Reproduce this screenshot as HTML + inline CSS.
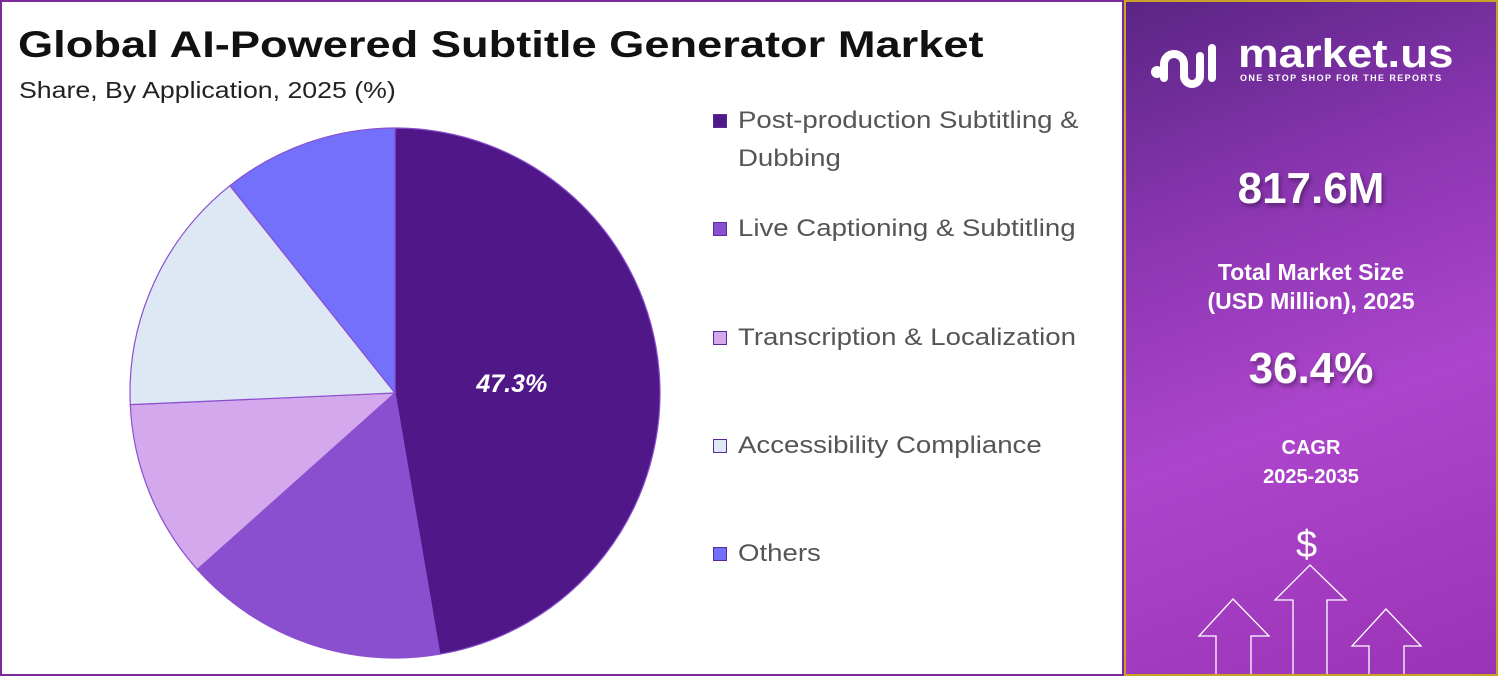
<!DOCTYPE html>
<html><head><meta charset="utf-8"><style>
body{margin:0;width:1498px;height:676px;overflow:hidden;background:#fff;font-family:"Liberation Sans",sans-serif}
#left{position:absolute;left:0;top:0;width:1120px;height:672px;border:2px solid #7b2a9a;box-sizing:content-box}
#right{position:absolute;left:1124px;top:0;width:370px;height:672px;border:2px solid #c9a227;background:linear-gradient(160deg,#5a2585 0%,#8a35b0 30%,#ad45cc 60%,#9a33b5 100%);color:#fff;text-align:center;overflow:hidden}
h1{position:absolute;left:16px;top:22px;margin:0;font-size:37px;font-weight:bold;color:#111;transform:scaleX(1.222);transform-origin:left}
.sub{position:absolute;left:17px;top:75px;font-size:23px;color:#222;transform:scaleX(1.16);transform-origin:left}
.leg{position:absolute;left:711px;font-size:24px;color:#555;line-height:38px}
.sw{position:absolute;left:0;top:12px;width:14px;height:14px;border:1.5px solid #5b2a9a;box-sizing:border-box}
.leg span.t{margin-left:25px;display:block;transform:scaleX(1.15);transform-origin:left;white-space:nowrap}
.big{position:absolute;width:100%;font-weight:bold;text-shadow:2px 3px 4px rgba(0,0,0,.35)}
</style></head><body>
<div id="left">
<h1>Global AI-Powered Subtitle Generator Market</h1>
<div class="sub">Share, By Application, 2025 (%)</div>
<svg id="pie" width="700" height="676" style="position:absolute;left:0;top:0"></svg>
<div id="legend"></div>
</div>
<div id="right">
<div style="position:absolute;left:22px;top:36px;width:330px;height:50px">
<svg width="80" height="50" style="position:absolute;left:0;top:0"><circle cx="9" cy="34" r="6" fill="#fff"/><path d="M16 40 V26 a10 10 0 0 1 20 0 V38 a8 8 0 0 0 16 0 V18" stroke="#fff" stroke-width="8" fill="none" stroke-linecap="round"/><path d="M64 10 V40" stroke="#fff" stroke-width="8" stroke-linecap="round"/></svg>
<div style="position:absolute;left:90px;top:-6px;font-size:40px;font-weight:bold;transform:scaleX(1.14);transform-origin:left">market.us</div>
<div style="position:absolute;left:92px;top:35px;font-size:9px;font-weight:bold;letter-spacing:1.4px">ONE STOP SHOP FOR THE REPORTS</div>
</div>
<div class="big" style="top:162px;font-size:44px">817.6M</div>
<div class="big" style="top:256px;font-size:23px;line-height:29px;text-shadow:none">Total Market Size<br>(USD Million), 2025</div>
<div class="big" style="top:342px;font-size:44px">36.4%</div>
<div class="big" style="top:432px;font-size:20px;line-height:29px;text-shadow:none">CAGR<br>2025-2035</div>
<div style="position:absolute;left:170px;top:522px;font-size:38px">$</div>
<svg width="370" height="676" style="position:absolute;left:0;top:0" fill="none" stroke="#fff" stroke-width="1.3">
<path d="M90 676 V634 H73 L107 597 L143 634 H125 V676"/>
<path d="M167 676 V598 H149 L184 563 L220 598 H201 V676"/>
<path d="M243 676 V644 H226 L260 607 L295 644 H278 V676"/>
</svg>
</div>
<script>
const categories=["Post-production Subtitling & Dubbing","Live Captioning & Subtitling","Transcription & Localization","Accessibility Compliance","Others"];
const shares=[47.3,16.1,10.9,15.0,10.7];
const colors=["#4f1787","#8a4fcf","#d4a8ec","#dde8f4","#7370fb"];
const legendTops=[100,208,317,425,533];
const svg=document.getElementById('pie');
const NS="http://www.w3.org/2000/svg";
const cx=393,cy=391,r=265;
const total=shares.reduce((a,b)=>a+b,0);
function pt(f){const a=f*2*Math.PI;return [cx+r*Math.sin(a),cy-r*Math.cos(a)];}
let acc=0;
shares.forEach((v,i)=>{
 const f0=acc/total,f1=(acc+v)/total;acc+=v;
 const p0=pt(f0),p1=pt(f1);
 const p=document.createElementNS(NS,'path');
 p.setAttribute('d',`M${cx},${cy} L${p0[0]},${p0[1]} A${r},${r} 0 ${f1-f0>0.5?1:0} 1 ${p1[0]},${p1[1]} Z`);
 p.setAttribute('fill',colors[i]);p.setAttribute('stroke','#8a4fcf');p.setAttribute('stroke-width','1.2');
 
 
 svg.appendChild(p);
 if(i===0){
  const t=document.createElementNS(NS,'text');
  const m=(f0+f1)/2*2*Math.PI;
  t.setAttribute('x',cx+r*0.45*Math.sin(m)-2);t.setAttribute('y',cy-r*0.45*Math.cos(m)+9);
  t.setAttribute('text-anchor','middle');t.setAttribute('fill','#fff');t.setAttribute('font-size','25');
  t.setAttribute('font-weight','bold');t.setAttribute('font-style','italic');t.setAttribute('font-family','Liberation Sans, sans-serif');
  t.textContent=v.toFixed(1)+'%';
  
  
  svg.appendChild(t);
 }
});
const lg=document.getElementById('legend');
categories.forEach((c,i)=>{
 const d=document.createElement('div');d.className='leg';d.style.top=legendTops[i]+'px';
 d.innerHTML=`<div class="sw" style="background:${colors[i]}"></div><span class="t">${c.replace('& Dubbing','&amp;<br>Dubbing').replace(/& /g,'&amp; ')}</span>`;
 
 
 lg.appendChild(d);
});
</script>
</body></html>
